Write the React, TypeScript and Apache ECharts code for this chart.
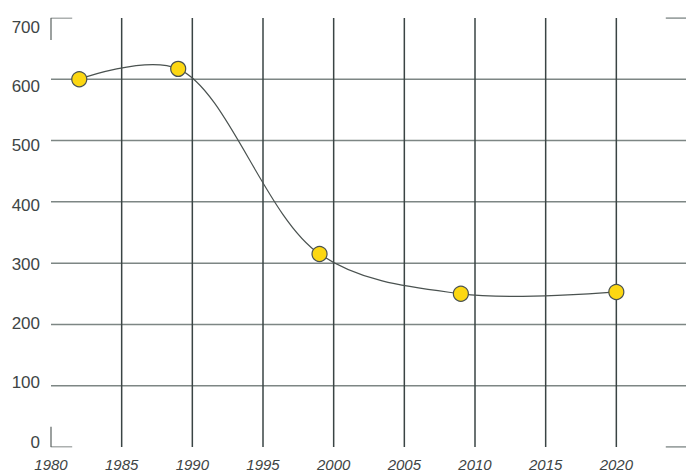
import React, { useEffect, useRef } from "react";
import * as echarts from "echarts";

const years = [1982, 1989, 1999, 2009, 2020];
const values = [600, 617, 315, 250, 253];
const xTicks = [1985, 1990, 1995, 2000, 2005, 2010, 2015, 2020];
const yTicks = [100, 200, 300, 400, 500, 600];

const FONT = "'Liberation Sans', Arial, sans-serif";

// centripetal Catmull-Rom (as d3.curveCatmullRom, alpha 0.5) through pixel points
function catmullRomPath(pts: number[][], alpha = 0.5): string {
  const n = pts.length;
  if (n < 2) return "";
  let d = `M${pts[0][0]},${pts[0][1]}`;
  const dist = (a: number[], b: number[]) => Math.hypot(b[0] - a[0], b[1] - a[1]);
  for (let i = 0; i < n - 1; i++) {
    const p0 = pts[i - 1] || pts[i];
    const p1 = pts[i];
    const p2 = pts[i + 1];
    const p3 = pts[i + 2] || pts[i + 1];
    const l01a = i > 0 ? Math.pow(dist(p0, p1), alpha) : 0;
    const l01_2a = l01a * l01a;
    const l12a = Math.pow(dist(p1, p2), alpha);
    const l12_2a = l12a * l12a;
    const l23a = i < n - 2 ? Math.pow(dist(p2, p3), alpha) : 0;
    const l23_2a = l23a * l23a;
    let c1x = p1[0], c1y = p1[1], c2x = p2[0], c2y = p2[1];
    if (l01a > 1e-6) {
      const a = 2 * l01_2a + 3 * l01a * l12a + l12_2a;
      const nn = 3 * l01a * (l01a + l12a);
      c1x = (p1[0] * a - p0[0] * l12_2a + p2[0] * l01_2a) / nn;
      c1y = (p1[1] * a - p0[1] * l12_2a + p2[1] * l01_2a) / nn;
    }
    if (l23a > 1e-6) {
      const b = 2 * l23_2a + 3 * l23a * l12a + l12_2a;
      const m = 3 * l23a * (l23a + l12a);
      c2x = (p2[0] * b + p1[0] * l23_2a - p3[0] * l12_2a) / m;
      c2y = (p2[1] * b + p1[1] * l23_2a - p3[1] * l12_2a) / m;
    }
    d += ` C${c1x},${c1y} ${c2x},${c2y} ${p2[0]},${p2[1]}`;
  }
  return d;
}

export default function App() {
  const ref = useRef<HTMLDivElement>(null);
  useEffect(() => {
    const chart = echarts.init(ref.current!, null, { renderer: "svg" });
    const points = years.map((y, i) => [y, values[i]]);
    const gridV = xTicks.map((x) => [
      [x, 0],
      [x, 700],
    ]);
    const gridH = yTicks.map((y) => [
      [1980, y],
      [2025, y],
    ]);
    const lineSeries = (data: number[][], color: string, width: number, z: number) => ({
      type: "line",
      data,
      showSymbol: false,
      symbol: "none",
      silent: true,
      z,
      lineStyle: { color, width },
    });
    chart.setOption({
      animation: false,
      grid: [
        { left: 51, right: 2, top: 18, bottom: 27 },
        { left: 51, right: 2, top: 27.5, bottom: 32 },
      ],
      xAxis: [
        {
          type: "value",
          min: 1980,
          max: 2025,
          interval: 5,
          axisLine: { show: false },
          axisTick: { show: false },
          splitLine: { show: false },
          axisLabel: {
            margin: 10,
            fontFamily: FONT,
            fontStyle: "italic",
            fontSize: 15,
            color: "#3e4545",
            formatter: (v: number) => (v === 2025 ? "" : String(v)),
          },
        },
        { type: "value", gridIndex: 1, min: 1980, max: 2025, show: false },
      ],
      yAxis: [
        {
          type: "value",
          min: 0,
          max: 700,
          interval: 100,
          axisLine: { show: false },
          axisTick: { show: false },
          splitLine: { show: false },
          axisLabel: { show: false },
        },
        {
          type: "value",
          gridIndex: 1,
          min: 0,
          max: 700,
          interval: 100,
          axisLine: { show: false },
          axisTick: { show: false },
          splitLine: { show: false },
          axisLabel: {
            margin: 11,
            fontFamily: FONT,
            fontSize: 17,
            color: "#3e4545",
          },
        },
      ],
      series: [
        ...gridH.map((d) => lineSeries(d, "#7d8684", 1.5, 1)),
        ...gridV.map((d) => lineSeries(d, "#3a4444", 1.5, 1)),
        lineSeries([[1980, 664], [1980, 700], [1981.5, 700]], "#5a6260", 1.2, 1),
        lineSeries([[1980, 33], [1980, 0], [1981.5, 0]], "#5a6260", 1.2, 1),
        lineSeries([[2023.5, 700], [2025, 700]], "#7d8684", 1.5, 1),
        lineSeries([[2023.5, 0], [2025, 0]], "#7d8684", 1.5, 1),
        {
          type: "custom",
          data: points,
          z: 4,
          silent: true,
          renderItem: (params: any, api: any) => {
            if (params.dataIndex !== 0) return null;
            const px = points.map((p) => api.coord(p));
            return {
              type: "path",
              shape: { pathData: catmullRomPath(px) },
              style: { stroke: "#4a5250", lineWidth: 1.2, fill: "none" },
            };
          },
        },
        {
          type: "scatter",
          data: points,
          symbol: "circle",
          symbolSize: 15,
          z: 5,
          itemStyle: { color: "#fcd712", borderColor: "#4a5250", borderWidth: 1.2, opacity: 1 },
        },
      ],
    });
    return () => chart.dispose();
  }, []);
  return (
    <div
      ref={ref}
      style={{ position: "fixed", left: 0, top: 0, width: 690, height: 474, background: "#fff" }}
    />
  );
}
